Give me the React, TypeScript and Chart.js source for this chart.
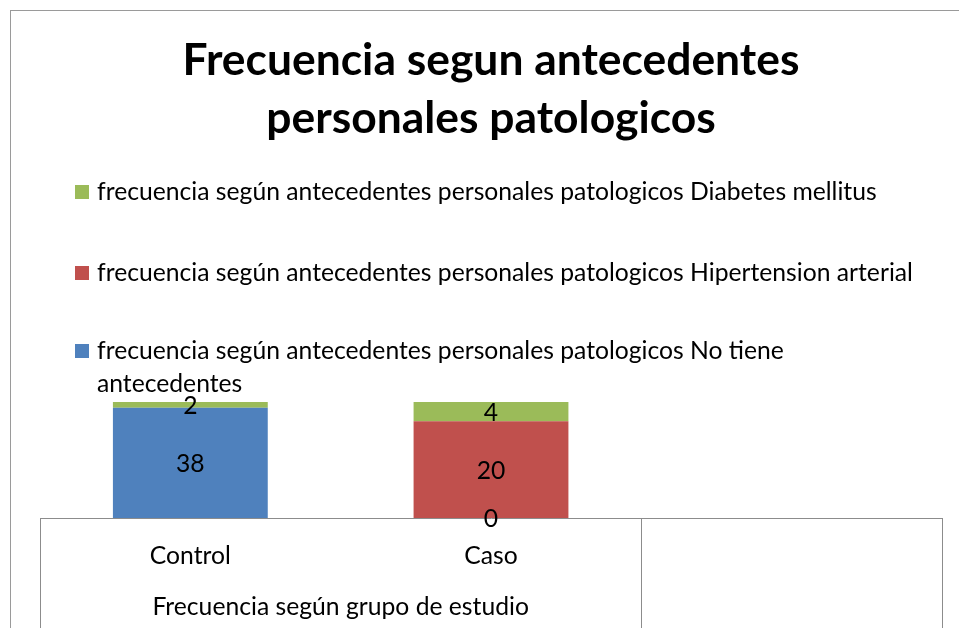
import React, { useEffect, useRef } from 'react';
import { Chart, registerables } from 'chart.js';

Chart.register(...registerables);

// ---- data ----
const categories = ['Control', 'Caso', ''];
const groupLabel = 'Frecuencia según grupo de estudio';
const titleLines = ['Frecuencia segun antecedentes', 'personales patologicos'];
const seriesNames = [
  'frecuencia según antecedentes personales patologicos No tiene antecedentes',
  'frecuencia según antecedentes personales patologicos Hipertension arterial',
  'frecuencia según antecedentes personales patologicos Diabetes mellitus',
];
const noTieneValues: (number | null)[] = [38, 0, null];
const hipertensionValues: (number | null)[] = [null, 20, null];
const diabetesValues: (number | null)[] = [2, 4, null];
const seriesColors = ['#4F81BD', '#C0504D', '#9BBB59'];

const FAMILY = 'Lato, "Open Sans", sans-serif';

const rawSeries = [noTieneValues, hipertensionValues, diabetesValues];

function toPercent(series: (number | null)[][]) {
  const totals = categories.map((_, j) =>
    series.reduce((s, arr) => s + (arr[j] ?? 0), 0)
  );
  return series.map((arr) =>
    arr.map((v, j) => (v == null || totals[j] === 0 ? null : (v / totals[j]) * 100))
  );
}

function fitSize(text: string, weight: string, target: number) {
  const c = document.createElement('canvas').getContext('2d')!;
  c.font = `${weight} 100px ${FAMILY}`;
  return (100 * target) / c.measureText(text).width;
}

function wrap(ctx: CanvasRenderingContext2D, text: string, maxW: number) {
  const words = text.split(' ');
  const lines: string[] = [];
  let cur = '';
  for (const w of words) {
    const t = cur ? cur + ' ' + w : w;
    if (ctx.measureText(t).width > maxW && cur) {
      lines.push(cur);
      cur = w;
    } else cur = t;
  }
  if (cur) lines.push(cur);
  return lines;
}

export default function App() {
  const ref = useRef<HTMLCanvasElement>(null);

  useEffect(() => {
    if (!ref.current) return;
    const titleSize = fitSize(titleLines[0], 'bold', 617);
    const textSize = fitSize(seriesNames[2], 'normal', 780);
    const textFont = `normal ${textSize}px ${FAMILY}`;
    const pct = toPercent(rawSeries);

    const decor = {
      id: 'decor',
      beforeDraw(chart: any) {
        const ctx = chart.ctx;
        ctx.save();
        ctx.strokeStyle = '#9a9a9a';
        ctx.lineWidth = 1;
        ctx.strokeRect(10.5, 10.5, 3000, 3000);
        ctx.restore();
      },
      afterDatasetsDraw(chart: any) {
        const ctx = chart.ctx;
        ctx.save();
        ctx.font = textFont;
        ctx.fillStyle = '#000';
        ctx.textAlign = 'center';
        ctx.textBaseline = 'middle';
        chart.data.datasets.forEach((ds: any, i: number) => {
          const meta = chart.getDatasetMeta(i);
          meta.data.forEach((bar: any, j: number) => {
            const raw = rawSeries[i][j];
            if (raw == null) return;
            const p = bar.getProps(['x', 'y', 'base'], true);
            ctx.fillText(String(raw), p.x, (p.y + p.base) / 2 + 1);
          });
        });
        ctx.restore();
      },
      afterDraw(chart: any) {
        const ctx = chart.ctx;
        const area = chart.chartArea;
        const xs = chart.scales.x;
        ctx.save();
        // separators of the category groups
        const b1 = (xs.getPixelForValue(1) + xs.getPixelForValue(2)) / 2;
        ctx.strokeStyle = '#8c8c8c';
        ctx.lineWidth = 1;
        [area.left, b1, area.right].forEach((x) => {
          const px = Math.round(x) + 0.5;
          ctx.beginPath();
          ctx.moveTo(px, area.bottom);
          ctx.lineTo(px, chart.height);
          ctx.stroke();
        });
        // group label
        ctx.font = textFont;
        ctx.fillStyle = '#000';
        ctx.textAlign = 'center';
        ctx.textBaseline = 'middle';
        const gx = (xs.getPixelForValue(0) + xs.getPixelForValue(1)) / 2;
        ctx.fillText(groupLabel, gx, area.bottom + 89);

        // legend (reverse order, like a stacked column legend)
        const baselines = [200, 281, 359];
        const order = [2, 1, 0];
        ctx.textAlign = 'left';
        ctx.textBaseline = 'alphabetic';
        order.forEach((si, k) => {
          const y = baselines[k];
          ctx.fillStyle = seriesColors[si];
          ctx.fillRect(75, y - 15, 14, 14);
          ctx.fillStyle = '#000';
          const lines = wrap(ctx, seriesNames[si], 828);
          lines.forEach((ln, li) => ctx.fillText(ln, 97, y + li * 33));
        });
        ctx.restore();
      },
    };

    const chart = new Chart(ref.current, {
      type: 'bar',
      data: {
        labels: categories,
        datasets: seriesNames.map((name, i) => ({
          label: name,
          data: pct[i] as any,
          backgroundColor: seriesColors[i],
          borderWidth: 0,
          categoryPercentage: 1,
          barPercentage: 0.515,
        })),
      },
      options: {
        animation: false,
        responsive: false,
        layout: { padding: { left: 40, right: 17, top: 0, bottom: 0 } },
        plugins: {
          legend: { display: false },
          tooltip: { enabled: false },
          title: {
            display: true,
            text: titleLines,
            color: '#000',
            font: { family: FAMILY, size: titleSize, weight: 'bold', lineHeight: '58px' as any },
            padding: { top: 32, bottom: 254 },
          },
        },
        scales: {
          x: {
            stacked: true,
            grid: { display: false, drawTicks: false },
            border: { display: true, color: '#8c8c8c', width: 1 },
            ticks: {
              color: '#000',
              font: { family: FAMILY, size: textSize },
              padding: 23,
              maxRotation: 0,
              autoSkip: false,
            },
            afterFit: (scale: any) => {
              scale.height = 110;
            },
          },
          y: {
            stacked: true,
            display: false,
            min: 0,
            max: 100,
          },
        },
      },
      plugins: [decor],
    });
    return () => chart.destroy();
  }, []);

  return (
    <div style={{ position: 'fixed', left: 0, top: 0, width: 959, height: 628, background: '#fff' }}>
      <canvas ref={ref} width={959} height={628} style={{ width: 959, height: 628, display: 'block' }} />
    </div>
  );
}
